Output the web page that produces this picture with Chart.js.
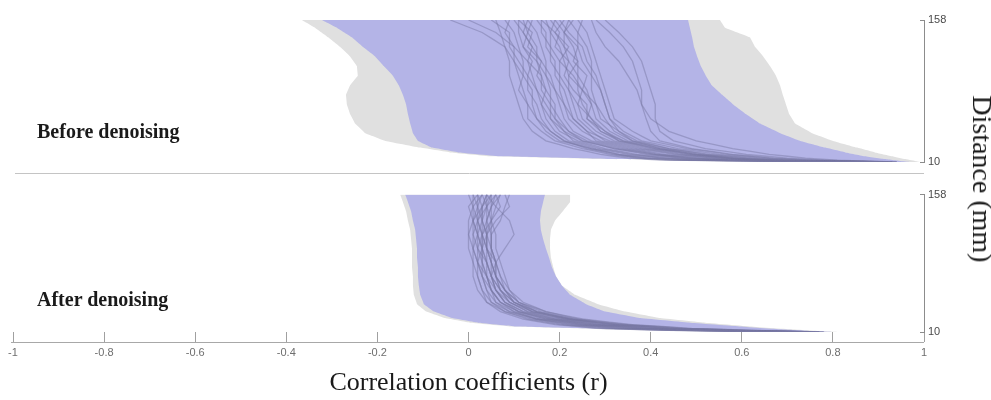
<!DOCTYPE html>
<html>
<head>
<meta charset="utf-8">
<script src="https://cdn.jsdelivr.net/npm/chart.js@4.4.1/dist/chart.umd.min.js"></script>
<style>
  body { margin: 0; background: #fff; }
  #wrap { position: relative; width: 991px; height: 400px; overflow: hidden; }
  canvas { position: absolute; left: 0; }
  #top { top: 0; }
  #bottom { top: 180px; }
  .panel-label {
    position: absolute; left: 37px; white-space: nowrap; color: #1a1a1a;
    font-family: 'Liberation Serif', 'Times New Roman', serif; font-weight: bold;
    font-size: 20px; line-height: 20px;
  }
  #ylabel {
    position: absolute; left: 982px; top: 179px; white-space: nowrap; color: #1a1a1a;
    transform: translate(-50%, -50%) rotate(90deg);
    font-family: 'Liberation Serif', 'Times New Roman', serif; font-size: 28px; line-height: 28px;
  }
</style>
</head>
<body>
<div id="wrap">
  <canvas id="top" width="991" height="180"></canvas>
  <canvas id="bottom" width="991" height="220"></canvas>
  <div class="panel-label" style="top:121px">Before denoising</div>
  <div class="panel-label" style="top:289px">After denoising</div>
  <div id="ylabel">Distance (mm)</div>
</div>
<script>
// Distance levels (mm) for the envelopes
const envDist = [158, 150, 140, 130, 120, 110, 100, 90, 80, 70, 60, 50, 40, 32, 25, 20, 16, 13, 11, 10];

// Before denoising: grey (full range) and purple (inner range) envelopes
const beforeGreyLow = [-0.366, -0.337, -0.308, -0.282, -0.260, -0.245, -0.243, -0.260, -0.269, -0.267, -0.260, -0.249, -0.227, -0.183, -0.106, -0.041, 0.047, 0.289, 0.640, 0.903];
const beforeGreyHigh = [0.552, 0.563, 0.618, 0.629, 0.647, 0.662, 0.675, 0.684, 0.690, 0.697, 0.704, 0.717, 0.754, 0.800, 0.853, 0.892, 0.930, 0.958, 0.980, 0.991];
const beforePurpleLow = [-0.322, -0.289, -0.256, -0.232, -0.205, -0.186, -0.166, -0.153, -0.144, -0.137, -0.133, -0.128, -0.122, -0.111, -0.080, -0.023, 0.069, 0.322, 0.662, 0.914];
const beforePurpleHigh = [0.482, 0.486, 0.491, 0.495, 0.502, 0.510, 0.521, 0.534, 0.557, 0.581, 0.609, 0.640, 0.684, 0.728, 0.783, 0.827, 0.870, 0.914, 0.947, 0.969];

// After denoising envelopes
const afterGreyLow = [-0.150, -0.144, -0.137, -0.133, -0.128, -0.126, -0.124, -0.124, -0.124, -0.122, -0.122, -0.120, -0.113, -0.093, -0.052, 0.003, 0.091, 0.311, 0.552, 0.772];
const afterGreyHigh = [0.223, 0.223, 0.207, 0.190, 0.181, 0.179, 0.179, 0.181, 0.186, 0.192, 0.205, 0.234, 0.284, 0.344, 0.420, 0.519, 0.618, 0.706, 0.772, 0.811];
const afterPurpleLow = [-0.139, -0.133, -0.126, -0.122, -0.117, -0.115, -0.113, -0.113, -0.111, -0.111, -0.109, -0.106, -0.098, -0.076, -0.036, 0.021, 0.102, 0.333, 0.563, 0.776];
const afterPurpleHigh = [0.168, 0.164, 0.159, 0.157, 0.159, 0.164, 0.170, 0.177, 0.183, 0.192, 0.205, 0.223, 0.258, 0.300, 0.376, 0.486, 0.596, 0.684, 0.754, 0.798];

// Distance levels for the individual curves
const lineDist = [158, 145, 130, 115, 100, 85, 70, 55, 42, 32, 24, 18, 14, 12, 10];

const beforeLines = [
  [0.06, 0.07, 0.08, 0.09, 0.09, 0.10, 0.11, 0.12, 0.14, 0.17, 0.23, 0.29, 0.35, 0.42, 0.86],
  [0.09, 0.08, 0.10, 0.10, 0.12, 0.11, 0.13, 0.13, 0.16, 0.19, 0.25, 0.31, 0.37, 0.44, 0.87],
  [0.08, 0.10, 0.11, 0.12, 0.12, 0.14, 0.14, 0.15, 0.17, 0.20, 0.27, 0.33, 0.39, 0.47, 0.87],
  [0.11, 0.11, 0.12, 0.14, 0.13, 0.15, 0.16, 0.17, 0.19, 0.22, 0.28, 0.35, 0.42, 0.49, 0.88],
  [0.12, 0.13, 0.12, 0.15, 0.16, 0.16, 0.18, 0.18, 0.20, 0.24, 0.30, 0.37, 0.44, 0.51, 0.88],
  [0.14, 0.13, 0.15, 0.15, 0.17, 0.18, 0.18, 0.20, 0.22, 0.25, 0.32, 0.39, 0.46, 0.53, 0.89],
  [0.13, 0.15, 0.16, 0.17, 0.17, 0.19, 0.20, 0.21, 0.23, 0.27, 0.34, 0.41, 0.48, 0.56, 0.89],
  [0.16, 0.16, 0.18, 0.18, 0.20, 0.20, 0.21, 0.22, 0.25, 0.29, 0.36, 0.43, 0.51, 0.58, 0.90],
  [0.17, 0.18, 0.18, 0.20, 0.20, 0.22, 0.23, 0.24, 0.27, 0.30, 0.37, 0.45, 0.53, 0.60, 0.91],
  [0.19, 0.18, 0.20, 0.21, 0.22, 0.22, 0.24, 0.25, 0.28, 0.32, 0.39, 0.47, 0.55, 0.63, 0.91],
  [0.19, 0.21, 0.21, 0.22, 0.24, 0.24, 0.25, 0.27, 0.30, 0.33, 0.41, 0.49, 0.57, 0.65, 0.92],
  [0.22, 0.21, 0.23, 0.24, 0.24, 0.26, 0.27, 0.28, 0.31, 0.35, 0.43, 0.51, 0.59, 0.67, 0.92],
  [0.22, 0.24, 0.24, 0.25, 0.27, 0.27, 0.28, 0.29, 0.33, 0.37, 0.44, 0.53, 0.62, 0.69, 0.93],
  [0.25, 0.24, 0.26, 0.27, 0.27, 0.29, 0.30, 0.31, 0.34, 0.38, 0.46, 0.55, 0.64, 0.72, 0.93],
  [0.24, 0.26, 0.27, 0.28, 0.29, 0.30, 0.31, 0.32, 0.36, 0.40, 0.48, 0.57, 0.66, 0.74, 0.94],
  [-0.04, 0.03, 0.08, 0.10, 0.11, 0.12, 0.13, 0.15, 0.18, 0.21, 0.27, 0.33, 0.40, 0.48, 0.87],
  [0.00, 0.06, 0.10, 0.13, 0.14, 0.15, 0.17, 0.19, 0.21, 0.25, 0.32, 0.40, 0.47, 0.55, 0.89],
  [0.28, 0.31, 0.34, 0.36, 0.37, 0.38, 0.38, 0.39, 0.40, 0.42, 0.49, 0.58, 0.67, 0.76, 0.93],
  [0.30, 0.33, 0.36, 0.38, 0.39, 0.40, 0.41, 0.41, 0.42, 0.45, 0.52, 0.61, 0.70, 0.78, 0.94],
  [0.20, 0.22, 0.25, 0.26, 0.28, 0.29, 0.30, 0.31, 0.33, 0.36, 0.42, 0.50, 0.58, 0.66, 0.92],
  [0.10, 0.12, 0.14, 0.16, 0.18, 0.19, 0.21, 0.23, 0.26, 0.31, 0.38, 0.46, 0.54, 0.61, 0.90],
  [0.15, 0.17, 0.17, 0.19, 0.19, 0.21, 0.22, 0.23, 0.26, 0.28, 0.35, 0.42, 0.50, 0.57, 0.90],
  [0.11, 0.14, 0.13, 0.16, 0.15, 0.17, 0.19, 0.19, 0.22, 0.26, 0.33, 0.41, 0.49, 0.57, 0.89],
  [0.18, 0.20, 0.19, 0.22, 0.21, 0.23, 0.26, 0.26, 0.29, 0.33, 0.40, 0.48, 0.56, 0.64, 0.91],
  [0.23, 0.21, 0.24, 0.23, 0.26, 0.25, 0.28, 0.30, 0.32, 0.36, 0.44, 0.52, 0.61, 0.69, 0.92],
  [0.13, 0.12, 0.14, 0.13, 0.16, 0.17, 0.16, 0.18, 0.21, 0.23, 0.29, 0.36, 0.43, 0.50, 0.88],
  [0.05, 0.09, 0.09, 0.11, 0.13, 0.13, 0.15, 0.16, 0.18, 0.21, 0.26, 0.32, 0.38, 0.45, 0.87],
  [0.16, 0.19, 0.22, 0.20, 0.23, 0.25, 0.24, 0.27, 0.29, 0.34, 0.41, 0.49, 0.57, 0.64, 0.91],
  [0.21, 0.19, 0.21, 0.24, 0.22, 0.25, 0.27, 0.26, 0.30, 0.34, 0.42, 0.50, 0.58, 0.66, 0.92],
  [0.27, 0.28, 0.30, 0.33, 0.35, 0.37, 0.38, 0.40, 0.44, 0.50, 0.58, 0.66, 0.74, 0.81, 0.94]
];

const afterLines = [
  [0.01, 0.01, 0.00, 0.00, 0.00, 0.01, 0.01, 0.02, 0.04, 0.07, 0.12, 0.19, 0.28, 0.40, 0.70],
  [0.02, 0.00, 0.01, 0.01, 0.01, 0.01, 0.02, 0.03, 0.04, 0.08, 0.13, 0.20, 0.29, 0.41, 0.71],
  [0.01, 0.02, 0.01, 0.00, 0.01, 0.02, 0.02, 0.03, 0.05, 0.08, 0.14, 0.21, 0.31, 0.43, 0.71],
  [0.03, 0.01, 0.01, 0.02, 0.01, 0.02, 0.03, 0.04, 0.05, 0.09, 0.15, 0.22, 0.32, 0.44, 0.72],
  [0.02, 0.02, 0.02, 0.01, 0.02, 0.02, 0.03, 0.04, 0.06, 0.10, 0.15, 0.24, 0.34, 0.46, 0.72],
  [0.04, 0.03, 0.01, 0.02, 0.02, 0.03, 0.03, 0.05, 0.07, 0.10, 0.16, 0.25, 0.35, 0.47, 0.73],
  [0.03, 0.02, 0.03, 0.02, 0.03, 0.03, 0.04, 0.05, 0.07, 0.11, 0.17, 0.26, 0.37, 0.49, 0.73],
  [0.04, 0.03, 0.02, 0.03, 0.02, 0.04, 0.04, 0.06, 0.08, 0.12, 0.18, 0.27, 0.38, 0.50, 0.74],
  [0.05, 0.03, 0.03, 0.03, 0.03, 0.04, 0.05, 0.06, 0.08, 0.12, 0.19, 0.28, 0.39, 0.51, 0.75],
  [0.04, 0.04, 0.03, 0.04, 0.04, 0.04, 0.05, 0.06, 0.09, 0.13, 0.20, 0.29, 0.41, 0.53, 0.75],
  [0.06, 0.04, 0.04, 0.03, 0.04, 0.05, 0.05, 0.07, 0.09, 0.14, 0.21, 0.30, 0.42, 0.54, 0.76],
  [0.05, 0.05, 0.04, 0.04, 0.04, 0.05, 0.06, 0.07, 0.10, 0.14, 0.21, 0.32, 0.44, 0.56, 0.76],
  [0.06, 0.05, 0.04, 0.05, 0.05, 0.05, 0.06, 0.08, 0.10, 0.15, 0.22, 0.33, 0.45, 0.57, 0.77],
  [0.07, 0.05, 0.05, 0.04, 0.05, 0.06, 0.07, 0.08, 0.11, 0.16, 0.23, 0.34, 0.47, 0.59, 0.77],
  [0.07, 0.06, 0.05, 0.05, 0.05, 0.06, 0.07, 0.09, 0.11, 0.17, 0.24, 0.35, 0.48, 0.60, 0.78],
  [0.08, 0.09, 0.06, 0.04, 0.04, 0.05, 0.06, 0.08, 0.10, 0.14, 0.22, 0.31, 0.43, 0.55, 0.76],
  [0.09, 0.08, 0.07, 0.05, 0.05, 0.06, 0.06, 0.08, 0.11, 0.15, 0.23, 0.33, 0.46, 0.58, 0.77],
  [0.00, 0.01, 0.02, 0.02, 0.03, 0.03, 0.04, 0.05, 0.06, 0.09, 0.15, 0.23, 0.33, 0.45, 0.72],
  [0.03, 0.04, 0.02, 0.03, 0.03, 0.02, 0.04, 0.05, 0.07, 0.11, 0.18, 0.27, 0.39, 0.52, 0.74],
  [0.05, 0.04, 0.05, 0.03, 0.04, 0.06, 0.05, 0.07, 0.09, 0.13, 0.19, 0.29, 0.40, 0.52, 0.75],
  [0.02, 0.03, 0.03, 0.04, 0.03, 0.04, 0.05, 0.06, 0.08, 0.11, 0.17, 0.25, 0.36, 0.48, 0.73],
  [0.06, 0.07, 0.05, 0.06, 0.06, 0.07, 0.08, 0.09, 0.12, 0.17, 0.25, 0.36, 0.49, 0.61, 0.78],
  [0.04, 0.06, 0.09, 0.10, 0.08, 0.06, 0.06, 0.07, 0.10, 0.15, 0.22, 0.32, 0.44, 0.56, 0.76]
];

const xTicks = [-1, -0.8, -0.6, -0.4, -0.2, 0, 0.2, 0.4, 0.6, 0.8, 1];
const yTicks = [10, 158];

const greyFill = 'rgb(224, 224, 224)';
const purpleFill = 'rgb(180, 180, 231)';
const curveColor = 'rgba(120, 120, 162, 0.48)';
const tickFont = { family: "'Liberation Sans Narrow', 'Arial Narrow', 'Liberation Sans', sans-serif", size: 11 };

function toPoints(xs, ds) {
  return xs.map((x, i) => ({ x: x, y: ds[i] }));
}

// low edge + high edge, the high one filled back to the low one
function band(low, high, color, order) {
  return [
    { data: toPoints(low, envDist), borderWidth: 0, borderColor: 'rgba(0,0,0,0)', pointRadius: 0, fill: false, order: order },
    { data: toPoints(high, envDist), borderWidth: 0, borderColor: 'rgba(0,0,0,0)', pointRadius: 0, fill: '-1', backgroundColor: color, order: order }
  ];
}

function curves(lines) {
  return lines.map(vals => ({
    data: toPoints(vals, lineDist),
    borderColor: curveColor,
    borderWidth: 1.3,
    pointRadius: 0,
    fill: false,
    order: 1
  }));
}

// offset axis line under each panel (detached axis look)
const axisLinePlugin = {
  id: 'axisLine',
  afterDraw(chart, args, opts) {
    const { ctx, chartArea } = chart;
    const y = Math.round(chartArea.bottom + opts.offset) + 0.5;
    ctx.save();
    ctx.strokeStyle = opts.color;
    ctx.lineWidth = 1;
    ctx.beginPath();
    ctx.moveTo(chartArea.left + opts.inset, y);
    ctx.lineTo(chartArea.right, y);
    ctx.stroke();
    ctx.restore();
  }
};

function yScale() {
  return {
    type: 'linear',
    position: 'right',
    min: 10,
    max: 158,
    afterBuildTicks: s => { s.ticks = yTicks.map(v => ({ value: v })); },
    afterFit: s => { s.width = 67; },
    grid: { drawOnChartArea: false, drawTicks: true, tickLength: -4, color: '#8c8c8c' },
    border: { display: true, color: '#8c8c8c' },
    ticks: { padding: 8, color: '#4a4a4a', font: tickFont }
  };
}

function makeChart(id, datasets, xScale, padding, lineOpts) {
  return new Chart(document.getElementById(id), {
    type: 'line',
    data: { datasets: datasets },
    options: {
      indexAxis: 'y',
      responsive: false,
      animation: false,
      events: [],
      // tiny tension keeps chart.js off its x-sorted fast path (points run along y here)
      elements: { line: { tension: 0.001 } },
      layout: { padding: padding },
      scales: { x: xScale, y: yScale() },
      plugins: {
        legend: { display: false },
        tooltip: { enabled: false },
        axisLine: lineOpts
      }
    },
    plugins: [axisLinePlugin]
  });
}

function initCharts() {
  makeChart('top',
    [...band(beforeGreyLow, beforeGreyHigh, greyFill, 3),
     ...band(beforePurpleLow, beforePurpleHigh, purpleFill, 2),
     ...curves(beforeLines)],
    { type: 'linear', min: -1, max: 1, display: false },
    { top: 20, bottom: 18, left: 13, right: 0 },
    { offset: 11, color: '#c4c4c4', inset: 2 });

  makeChart('bottom',
    [...band(afterGreyLow, afterGreyHigh, greyFill, 3),
     ...band(afterPurpleLow, afterPurpleHigh, purpleFill, 2),
     ...curves(afterLines)],
    {
      type: 'linear', min: -1, max: 1,
      afterBuildTicks: s => { s.ticks = xTicks.map(v => ({ value: v })); },
      afterFit: s => { s.height = 68; },
      grid: { drawOnChartArea: false, drawTicks: true, tickLength: 10, color: '#a0a0a0' },
      border: { display: false },
      ticks: {
        padding: 4, color: '#6e6e6e', font: tickFont, maxRotation: 0, autoSkip: false,
        callback: v => String(Math.round(v * 10) / 10)
      },
      title: {
        display: true,
        text: 'Correlation coefficients (r)',
        color: '#1a1a1a',
        font: { family: "'Liberation Serif', 'Times New Roman', serif", size: 26 },
        padding: { top: 0, bottom: 1 }
      }
    },
    { top: 8, bottom: 0, left: 13, right: 0 },
    { offset: 10, color: '#a8a8a8', inset: -2 });
}

initCharts();
</script>
</body>
</html>
